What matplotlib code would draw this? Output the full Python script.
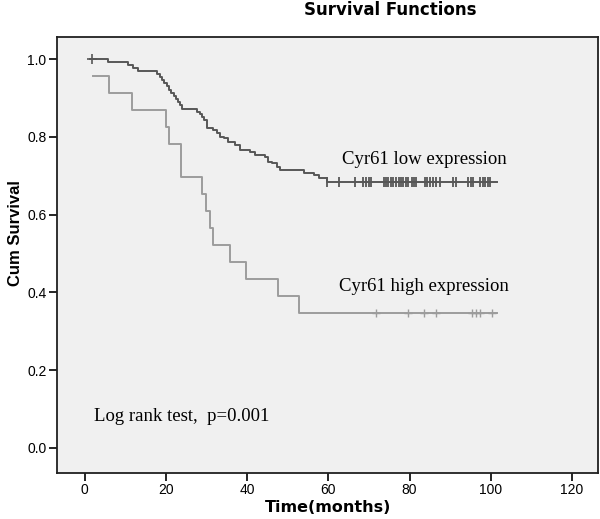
import matplotlib.pyplot as plt

# Cyr61 low expression: event times (months) and survival after each step
low_t = [1.3, 5.8, 10.8, 12.0, 13.2, 17.8, 18.5, 19.0, 19.6, 20.2, 20.8, 21.3,
         21.9, 22.5, 23.0, 23.5, 23.9, 27.6, 28.4, 29.0, 29.5, 30.1, 31.7, 32.5,
         33.3, 34.2, 35.4, 37.0, 38.3, 40.7, 42.0, 44.4, 45.2, 46.1, 47.3, 48.1,
         53.9, 56.4, 57.6, 59.6]
low_s = [1.0, 0.993, 0.986, 0.978, 0.970, 0.962, 0.954, 0.946, 0.938, 0.930,
         0.922, 0.914, 0.905, 0.897, 0.889, 0.881, 0.873, 0.865, 0.860, 0.852,
         0.843, 0.822, 0.817, 0.809, 0.800, 0.796, 0.787, 0.779, 0.766, 0.762,
         0.753, 0.749, 0.736, 0.732, 0.723, 0.716, 0.706, 0.702, 0.693, 0.684]
low_end = 101.5
low_cens = [59.6, 62.7, 66.6, 68.6, 69.2, 69.9, 70.5, 73.6, 74.2, 74.8, 75.4,
            76.0, 76.7, 77.3, 77.9, 78.5, 79.2, 79.7, 80.6, 81.0, 81.6, 83.7,
            84.3, 85.1, 85.7, 86.6, 87.6, 90.7, 91.5, 94.5, 95.1, 95.7, 97.4,
            98.0, 98.6, 99.2, 99.8]
low_cens_start = [1.9]

# Cyr61 high expression
high_t = [2.1, 6.0, 11.7, 20.0, 20.8, 23.7, 29.0, 29.8, 30.9, 31.7, 35.8,
          39.8, 47.7, 52.8]
high_s = [0.957, 0.913, 0.870, 0.826, 0.783, 0.696, 0.652, 0.609, 0.565,
          0.522, 0.478, 0.435, 0.391, 0.348]
high_end = 101.5
high_cens = [71.8, 79.6, 83.6, 86.5, 95.3, 96.3, 97.4, 100.4]

low_col = "#575757"
high_col = "#9c9c9c"

fig = plt.figure(figsize=(6, 5.19), dpi=100)
ax = fig.add_axes([0.095, 0.0886, 0.9017, 0.84])
ax.set_facecolor("#f0f0f0")

ax.step(low_t + [low_end], low_s + [low_s[-1]], where="post", color=low_col, lw=1.4)
ax.step(high_t + [high_end], high_s + [high_s[-1]], where="post", color=high_col, lw=1.4)

ax.plot(low_cens, [low_s[-1]] * len(low_cens), ls="none", marker="|",
        ms=7, mew=1.3, color=low_col)
ax.plot(low_cens_start, [1.0], ls="none", marker="+", ms=7, mew=1.2, color=low_col)
ax.plot(high_cens, [high_s[-1]] * len(high_cens), ls="none", marker="+",
        ms=6, mew=1.0, color=high_col)

ax.set_xlim(-6.8, 126.4)
ax.set_ylim(-0.065, 1.057)
ax.set_xticks([0, 20, 40, 60, 80, 100, 120])
ax.set_yticks([0.0, 0.2, 0.4, 0.6, 0.8, 1.0])
ax.set_yticklabels(["0.0", "0.2", "0.4", "0.6", "0.8", "1.0"])
ax.tick_params(direction="out", length=6, width=1.2, labelsize=10, pad=1.5)
for lab in ax.get_xticklabels() + ax.get_yticklabels():
    lab.set_family("Liberation Sans")
for sp in ax.spines.values():
    sp.set_linewidth(1.3)
    sp.set_color("#202020")

ax.set_xlabel("Time(months)", fontsize=11.5, fontweight="bold",
              family="DejaVu Sans", va="center")
ax.xaxis.set_label_coords(0.501, -0.08)
ax.set_ylabel("Cum Survival", fontsize=12, fontweight="bold",
              family="Liberation Sans", va="center")
ax.yaxis.set_label_coords(-0.076, 0.55)

fig.text(0.65, 0.98, "Survival Functions", ha="center", va="center",
         fontsize=12, fontweight="bold", family="DejaVu Sans")

ax.text(63.4, 0.742, "Cyr61 low expression", va="center", fontsize=13.5,
        family="Liberation Serif")
ax.text(62.7, 0.415, "Cyr61 high expression", va="center", fontsize=13.5,
        family="Liberation Serif")
ax.text(2.3, 0.08, "Log rank test,  p=0.001", va="center", fontsize=13.5,
        family="Liberation Serif")

fig.savefig("out.png", dpi=100)
